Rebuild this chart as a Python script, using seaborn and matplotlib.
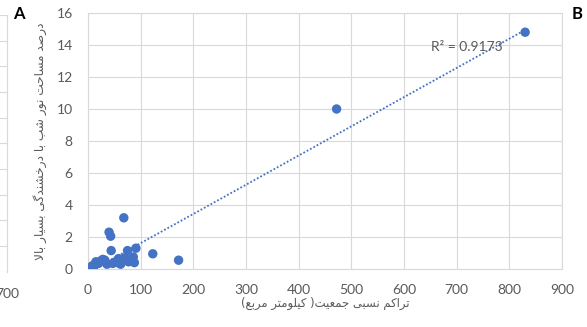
import matplotlib
matplotlib.use("Agg")
import matplotlib.pyplot as plt
import seaborn as sns
import numpy as np
import pandas as pd

# ---------------- data ----------------
density = [830, 472, 172, 123, 91, 68, 40, 43, 44, 75, 86, 82, 77, 70, 65, 58,
           52, 47, 36, 32, 28, 24, 20, 15, 12, 8, 6, 10, 56, 88, 62]
bright_pct = [14.8, 10.0, 0.55, 0.95, 1.3, 3.2, 2.3, 2.05, 1.15, 1.15, 0.75, 0.55,
              0.45, 0.7, 0.5, 0.65, 0.45, 0.35, 0.3, 0.55, 0.6, 0.5, 0.35, 0.45,
              0.25, 0.2, 0.1, 0.05, 0.4, 0.4, 0.3]
x_ticks = [0, 100, 200, 300, 400, 500, 600, 700, 800, 900]
y_ticks = [0, 2, 4, 6, 8, 10, 12, 14, 16]
x_label = "تراکم نسبی جمعیت( کیلومتر مربع)"
y_label = "درصد مساحت نور شب با درخشندگی بسیار بالا"
r2_text = "R² = 0.9173"

# ------------- Arabic/Persian shaping for display -------------
AR_FORMS = {
    'ا': ('\uFE8D', '\uFE8E', None, None),
    'ب': ('\uFE8F', '\uFE90', '\uFE91', '\uFE92'),
    'ت': ('\uFE95', '\uFE96', '\uFE97', '\uFE98'),
    'ج': ('\uFE9D', '\uFE9E', '\uFE9F', '\uFEA0'),
    'ح': ('\uFEA1', '\uFEA2', '\uFEA3', '\uFEA4'),
    'خ': ('\uFEA5', '\uFEA6', '\uFEA7', '\uFEA8'),
    'د': ('\uFEA9', '\uFEAA', None, None),
    'ر': ('\uFEAD', '\uFEAE', None, None),
    'س': ('\uFEB1', '\uFEB2', '\uFEB3', '\uFEB4'),
    'ش': ('\uFEB5', '\uFEB6', '\uFEB7', '\uFEB8'),
    'ص': ('\uFEB9', '\uFEBA', '\uFEBB', '\uFEBC'),
    'ع': ('\uFEC9', '\uFECA', '\uFECB', '\uFECC'),
    'ک': ('\uFB8E', '\uFB8F', '\uFB90', '\uFB91'),
    'گ': ('\uFB92', '\uFB93', '\uFB94', '\uFB95'),
    'ل': ('\uFEDD', '\uFEDE', '\uFEDF', '\uFEE0'),
    'م': ('\uFEE1', '\uFEE2', '\uFEE3', '\uFEE4'),
    'ن': ('\uFEE5', '\uFEE6', '\uFEE7', '\uFEE8'),
    'و': ('\uFEED', '\uFEEE', None, None),
    'ی': ('\uFBFC', '\uFBFD', '\uFBFE', '\uFBFF'),
}


def rtl(text):
    def joins_next(c):
        f = AR_FORMS.get(c)
        return f is not None and f[2] is not None

    out = []
    i, n = 0, len(text)
    while i < n:
        c = text[i]
        if c not in AR_FORMS:
            out.append(c)
            i += 1
            continue
        prev = text[i - 1] if i > 0 else ''
        conn_prev = joins_next(prev)
        if c == 'ل' and i + 1 < n and text[i + 1] == 'ا':
            out.append('\uFEFC' if conn_prev else '\uFEFB')
            i += 2
            continue
        nxt = text[i + 1] if i + 1 < n else ''
        conn_next = joins_next(c) and nxt in AR_FORMS
        iso, fin, ini, med = AR_FORMS[c]
        if conn_prev and conn_next:
            g = med
        elif conn_prev:
            g = fin
        elif conn_next:
            g = ini
        else:
            g = iso
        out.append(g)
        i += 1
    mirror = {'(': ')', ')': '('}
    return ''.join(mirror.get(ch, ch) for ch in reversed(out))


# ---------------- style ----------------
sns.set_style("white")
plt.rcParams['font.family'] = ['Lato', 'DejaVu Sans']

BLUE = "#4472C4"
GRID = "#D9D9D9"
TXT = "#595959"
W, H = 587, 327
fig = plt.figure(figsize=(W / 100, H / 100), dpi=100)

# remnant of neighbouring panel A on the left edge
ax0 = fig.add_axes([-0.5, 1 - 271.7 / H, 0.5 + 7.3 / W, (271.7 - 15) / H])
ax0.set_xlim(0, 700)
ax0.set_ylim(0, 10)
ax0.set_xticks([700])
ax0.set_xticklabels(["700"])
ax0.set_yticks(range(11))
ax0.set_yticklabels([])
ax0.grid(True, axis='y', color=GRID, lw=0.8)
for s in ax0.spines.values():
    s.set_visible(False)
ax0.spines['right'].set_visible(True)
ax0.spines['right'].set_color(GRID)
ax0.spines['right'].set_linewidth(0.8)
ax0.tick_params(length=0, labelsize=10, labelcolor=TXT, pad=12)

# main panel B
L, R, T, B = 88, 562, 13, 269
ax = fig.add_axes([L / W, 1 - B / H, (R - L) / W, (B - T) / H])
df = pd.DataFrame({"density": density, "pct": bright_pct})
sns.regplot(data=df, x="density", y="pct", ax=ax, ci=None, truncate=True,
            scatter_kws=dict(s=46, color=BLUE, alpha=1, edgecolors='none', zorder=3),
            line_kws=dict(color=BLUE, lw=1.3, linestyle=(0, (1, 1.1)), zorder=2))

ax.set_xlim(0, 900)
ax.set_ylim(0, 16)
ax.set_xticks(x_ticks)
ax.set_yticks(y_ticks)
ax.grid(True, color=GRID, lw=0.8)
ax.set_axisbelow(True)
for s in ax.spines.values():
    s.set_color(GRID)
    s.set_linewidth(0.8)
ax.tick_params(length=0, labelsize=10, labelcolor=TXT)
ax.tick_params(axis='y', pad=11)
ax.tick_params(axis='x', pad=11)

ax.set_xlabel(rtl(x_label), fontsize=8.4, color=TXT, family='DejaVu Sans', va='center')
ax.xaxis.set_label_coords(0.5, (B - 303) / (B - T))
ax.set_ylabel(rtl(y_label), fontsize=8.7, color=TXT, family='DejaVu Sans', va='center')
ax.yaxis.set_label_coords((40 - L) / (R - L), 0.5)

ax.text(720, 13.9, r2_text, ha='center', va='center', fontsize=10, color=TXT)

fig.text(19 / W, 1 - 14 / H, "A", ha='center', va='center', fontsize=12,
         fontweight='bold', color='black')
fig.text(577 / W, 1 - 14 / H, "B", ha='center', va='center', fontsize=12,
         fontweight='bold', color='black')

fig.savefig("out.png", dpi=100)
